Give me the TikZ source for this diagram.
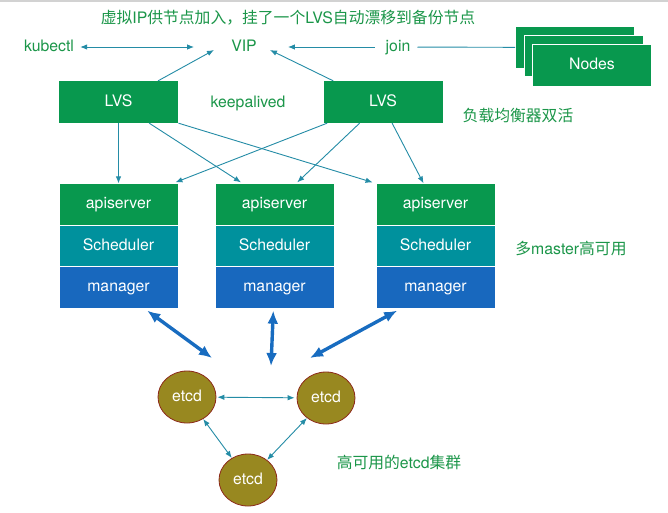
\documentclass[tikz,border=0pt]{standalone}
\usepackage{fontspec}
\setmainfont{TeX Gyre Heros}
\newfontfamily\cjk{Noto Sans CJK SC}
\usetikzlibrary{arrows.meta,calc,shapes.geometric}
\definecolor{tgreen}{RGB}{27,150,73}
\definecolor{bgreen}{RGB}{8,152,78}
\definecolor{bteal}{RGB}{0,145,157}
\definecolor{bblue}{RGB}{24,104,190}
\definecolor{ateal}{RGB}{36,140,166}
\definecolor{ablue}{RGB}{24,108,192}
\definecolor{olivec}{RGB}{152,136,32}
\definecolor{oredc}{RGB}{140,40,25}
\tikzset{
 tipT/.tip={Latex[length=7pt,width=5.5pt]},
 tipB/.tip={Latex[length=13pt,width=11pt]},
}
\begin{document}
\begin{tikzpicture}[x=1pt,y=-1pt,
 font=\fontsize{15.8}{18}\selectfont,
 lbl/.style={inner sep=0pt, text=tgreen, text height=1.85ex, text depth=.25ex},
 cbox/.style={minimum width=119pt, minimum height=41.5pt, inner sep=0pt, text=white, draw=white, line width=0.8pt, text height=1.85ex, text depth=.25ex},
 thinarr/.style={draw=ateal, line width=0.9pt},
 thickarr/.style={draw=ablue, line width=3.4pt, arrows=tipB-tipB},
 etcdn/.style={ellipse, fill=olivec, draw=oredc, line width=0.8pt, minimum width=58pt, minimum height=52pt, inner sep=0pt, text=white, text height=1.85ex, text depth=.25ex},
]
\fill[white] (0,0) rectangle (668,512);
\useasboundingbox (0,0) rectangle (668,512);
\draw[gray!35, line width=2pt] (0,1) -- (668,1);

% labels
\node[lbl] (title) at (288,19) {{\cjk 虚拟}IP{\cjk 供节点加入，挂了一个}LVS{\cjk 自动漂移到备份节点}};
\node[lbl] (kubectl) at (49,47) {kubectl};
\node[lbl] (vip) at (244,47) {VIP};
\node[lbl] (join) at (398,47) {join};
\node[lbl] (keep) at (248,103) {keepalived};
\node[lbl] (lb) at (518,117) {{\cjk 负载均衡器双活}};
\node[lbl] (multi) at (571,250) {{\cjk 多}master{\cjk 高可用}};
\node[lbl] (cluster) at (399,464) {{\cjk 高可用的}etcd{\cjk 集群}};

% nodes stack
\node[cbox, fill=bgreen] (ndA) at (575,47.5) {};
\node[cbox, fill=bgreen] (ndB) at (583.5,56) {};
\node[cbox, fill=bgreen] (ndC) at (592,65.5) {Nodes};

% LVS
\node[cbox, fill=bgreen, draw=none] (lvsL) at (118.5,102) {LVS};
\node[cbox, fill=bgreen, draw=none] (lvsR) at (383,102) {LVS};

% masters
\node[cbox, fill=bgreen] (a1) at (118.5,204.5) {apiserver};
\node[cbox, fill=bteal] (s1) at (118.5,246) {Scheduler};
\node[cbox, fill=bblue] (m1) at (118.5,287.5) {manager};
\node[cbox, fill=bgreen] (a2) at (274.5,204.5) {apiserver};
\node[cbox, fill=bteal] (s2) at (274.5,246) {Scheduler};
\node[cbox, fill=bblue] (m2) at (274.5,287.5) {manager};
\node[cbox, fill=bgreen] (a3) at (435.5,204.5) {apiserver};
\node[cbox, fill=bteal] (s3) at (435.5,246) {Scheduler};
\node[cbox, fill=bblue] (m3) at (435.5,287.5) {manager};

% etcd
\node[etcdn] (etcdL) at (187,397) {etcd};
\node[etcdn] (etcdR) at (326,398) {etcd};
\node[etcdn] (etcdB) at (248,480) {etcd};

% top arrows
\draw[thinarr, arrows=tipT-tipT, shorten <=6pt, shorten >=37pt] (kubectl) -- (vip);
\draw[thinarr, arrows=-tipT, shorten <=11pt, shorten >=31pt] (join) -- (vip);
\draw[thinarr, shorten <=7pt] (join) -- (ndA);
\draw[thinarr, arrows=-tipT] ($(lvsL.north west)!0.83!(lvsL.north east)$) -- ($(vip.center)+(-30,3)$);
\draw[thinarr, arrows=-tipT] ($(lvsR.north west)!0.085!(lvsR.north east)$) -- ($(vip.center)+(26,3)$);

% LVS to apiservers
\draw[thinarr, arrows=-tipT] (lvsL.south) -- (a1.north);
\draw[thinarr, arrows=-tipT] ($(lvsL.south west)!0.756!(lvsL.south east)$) -- ($(a2.north west)!0.22!(a2.north east)+(0,-1)$);
\draw[thinarr, arrows=-tipT] (lvsL.south east) -- ($(a3.north west)+(-3,-1)$);
\draw[thinarr, arrows=-tipT] ($(lvsR.south west)!0.034!(lvsR.south east)$) -- ($(a1.north east)+(-3,-1)$);
\draw[thinarr, arrows=-tipT] ($(lvsR.south west)!0.305!(lvsR.south east)$) -- ($(a2.north west)!0.69!(a2.north east)+(0,-1)$);
\draw[thinarr, arrows=-tipT] ($(lvsR.south west)!0.576!(lvsR.south east)$) -- ($(a3.north west)!0.40!(a3.north east)$);

% thick arrows
\coordinate (mid) at (271,366);
\draw[thickarr] ($(m1.south west)!0.74!(m1.south east)+(0,2)$) -- ($(etcdL.center)+(25,-39)$);
\draw[thickarr] ($(m2.south west)!0.49!(m2.south east)+(0,2)$) -- (mid);
\draw[thickarr] ($(m3.south west)!0.18!(m3.south east)+(0,2)$) -- ($(etcdR.center)+(-16,-40)$);

% etcd arrows
\draw[thinarr, arrows=tipT-tipT, shorten <=1pt, shorten >=2pt] (etcdL) -- (etcdR);
\draw[thinarr, arrows=tipT-tipT] (etcdL) -- (etcdB);
\draw[thinarr, arrows=tipT-tipT] (etcdR) -- (etcdB);
\end{tikzpicture}
\end{document}
